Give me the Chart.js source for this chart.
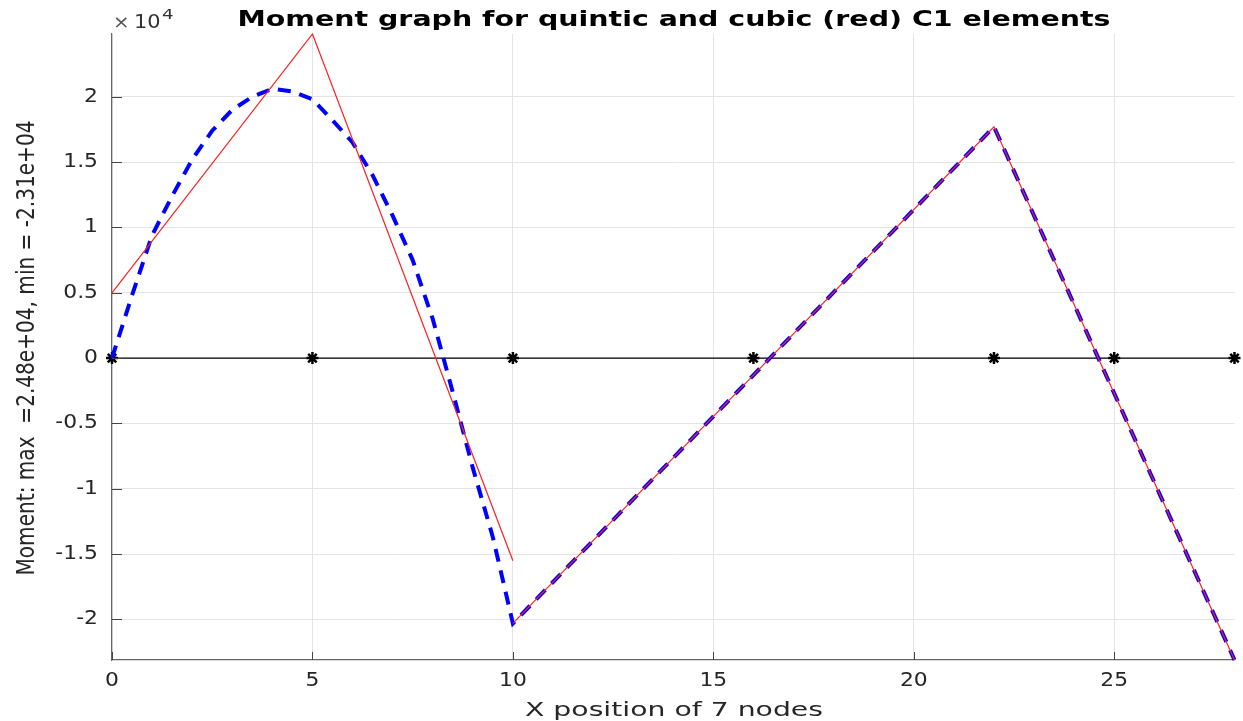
<!DOCTYPE html>
<html lang="en">
<head>
  <meta charset="UTF-8" />
  <title>Moment graph</title>
  <script src="https://cdn.jsdelivr.net/npm/chart.js"></script>
  <style>
    body { margin: 0; background: #fff; }
    #wrap { width: 1243px; height: 721px; }
  </style>
</head>
<body>
  <div id="wrap"><canvas id="grafico" width="1243" height="721"></canvas></div>

  <script>
    // node positions (asterisks on the zero line)
    const nodeX = [0, 5, 10, 16, 22, 25, 28];
    const nodeM = [0, 0, 0, 0, 0, 0, 0];

    // cubic C1 elements (red), jump at x = 10
    const cubicX = [0, 5, 10, 10, 10, 16, 22, 25, 28];
    const cubicM = [5000, 24800, -15500, null, -20300, -1300, 17700, -2700, -23100];

    // quintic C1 elements (blue dashed)
    const quinticX = [0, 0.5, 1, 1.5, 2, 2.5, 3, 3.5, 4, 4.5, 5, 5.5, 6, 6.5, 7, 7.5, 8, 8.5, 9, 9.5, 10, 16, 22, 25, 28];
    const quinticM = [0, 4800, 9400, 12400, 15200, 17400, 19000, 20000, 20600, 20400, 19800, 18200, 16500, 14000, 10900, 7500, 3000, -2600, -8400, -13700, -20300, -1300, 17700, -2700, -23100];

    const xTicks = [0, 5, 10, 15, 20, 25];
    const yTicks = [-20000, -15000, -10000, -5000, 0, 5000, 10000, 15000, 20000];
    const yTickText = ['-2', '-1.5', '-1', '-0.5', '0', '0.5', '1', '1.5', '2'];

    const titulo = 'Moment graph for quintic and cubic (red) C1 elements';
    const rotuloX = 'X position of 7 nodes';
    const rotuloY = 'Moment: max  =2.48e+04, min = -2.31e+04';

    const pares = (xs, ys) => xs.map((x, i) => ({ x: x, y: ys[i] }));

    // text is drawn a bit wider than normal, like in the reference
    function texto(ctx, s, x, y, o) {
      ctx.save();
      ctx.translate(x, y);
      if (o.rotate) ctx.rotate(o.rotate);
      ctx.font = o.font;
      ctx.fillStyle = o.color || '#262626';
      ctx.textBaseline = o.baseline || 'middle';
      ctx.textAlign = 'left';
      const w = ctx.measureText(s).width;
      const sx = o.fit ? o.fit / w : (o.sx || 1);
      ctx.scale(sx, o.sy || 1);
      const off = o.align === 'right' ? -w : o.align === 'left' ? 0 : -w / 2;
      ctx.fillText(s, off, 0);
      ctx.restore();
    }

    const textos = {
      id: 'textos',
      afterDraw(chart) {
        const ctx = chart.ctx;
        const sx = chart.scales.x, sy = chart.scales.y;
        const area = chart.chartArea;

        // small inward tick marks
        ctx.save();
        ctx.strokeStyle = '#444';
        ctx.lineWidth = 1;
        ctx.beginPath();
        yTicks.forEach(v => {
          const py = Math.round(sy.getPixelForValue(v)) + 0.5;
          ctx.moveTo(area.left, py); ctx.lineTo(area.left + 10, py);
        });
        xTicks.forEach(v => {
          const px = Math.round(sx.getPixelForValue(v)) + 0.5;
          ctx.moveTo(px, area.bottom); ctx.lineTo(px, area.bottom - 8);
        });
        ctx.stroke();
        ctx.restore();

        const f = '19px "DejaVu Sans"';
        yTicks.forEach((v, i) => {
          texto(ctx, yTickText[i], area.left - 14, sy.getPixelForValue(v), { font: f, sx: 1.15, align: 'right' });
        });
        xTicks.forEach(v => {
          texto(ctx, String(v), sx.getPixelForValue(v), area.bottom + 21, { font: f, sx: 1.15 });
        });

        // x10^4 multiplier
        texto(ctx, '\u00d7', 113, 23, { font: '18px "DejaVu Sans"', sx: 1.1, align: 'left', color: '#555' });
        texto(ctx, '10', 134, 23, { font: '19px "DejaVu Sans"', sx: 1.1, align: 'left', color: '#333' });
        texto(ctx, '4', 162, 15, { font: '14px "DejaVu Sans"', sx: 1.3, align: 'left', color: '#333' });

        texto(ctx, titulo, 674, 26, { font: 'bold 21px "DejaVu Sans"', fit: 873, baseline: 'alphabetic', color: '#000' });
        texto(ctx, rotuloX, 674, 716, { font: '20px "DejaVu Sans"', fit: 298, baseline: 'alphabetic' });
        texto(ctx, rotuloY, 28, 348, { font: '19px "DejaVu Sans"', fit: 455, sy: 1.3, rotate: -Math.PI / 2 });
      }
    };

    const ctx = document.getElementById('grafico').getContext('2d');
    const chart = new Chart(ctx, {
      type: 'scatter',
      data: {
        datasets: [
          {
            label: 'cubic',
            data: pares(cubicX, cubicM),
            showLine: true,
            borderColor: '#ff2020',
            borderWidth: 1.2,
            pointRadius: 0,
            spanGaps: false,
            clip: false,
            order: 0
          },
          {
            label: 'quintic',
            data: pares(quinticX, quinticM),
            showLine: true,
            borderColor: '#0000ff',
            borderWidth: 4,
            borderDash: [13, 9],
            pointRadius: 0,
            clip: false,
            order: 1
          },
          {
            label: 'nodes',
            data: pares(nodeX, nodeM),
            showLine: true,
            borderColor: '#000',
            backgroundColor: '#000',
            borderWidth: 1.2,
            pointStyle: 'star',
            pointRadius: 6,
            pointBorderWidth: 2.5,
            clip: false,
            order: 2
          }
        ]
      },
      options: {
        responsive: false,
        animation: false,
        layout: { padding: { top: 34, right: 6, bottom: 0, left: 0 } },
        plugins: {
          legend: { display: false },
          tooltip: { enabled: false }
        },
        scales: {
          x: {
            type: 'linear',
            min: 0,
            max: 28,
            afterBuildTicks: s => { s.ticks = xTicks.map(v => ({ value: v })); },
            afterFit: s => { s.height = 61; },
            ticks: { display: false },
            grid: { color: '#e4e4e4', lineWidth: 1, drawTicks: false },
            border: { display: true, color: '#666', width: 1.2 }
          },
          y: {
            type: 'linear',
            min: -23100,
            max: 24800,
            afterBuildTicks: s => { s.ticks = yTicks.map(v => ({ value: v })); },
            afterFit: s => { s.width = 112; },
            ticks: { display: false },
            grid: { color: '#e4e4e4', lineWidth: 1, drawTicks: false },
            border: { display: true, color: '#666', width: 1.2 }
          }
        }
      },
      plugins: [textos]
    });
  </script>
</body>
</html>
